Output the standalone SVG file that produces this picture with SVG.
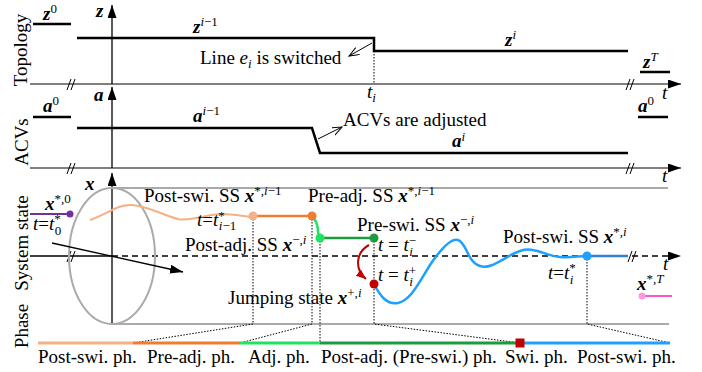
<svg xmlns="http://www.w3.org/2000/svg" width="702" height="372" viewBox="0 0 702 372">
<style>
text{font-family:"Liberation Serif","Times New Roman",serif;font-size:19px;fill:#000}
.mb{font-weight:bold;font-style:italic}
.it{font-style:italic}
.sm{font-size:13px}
.step{fill:none;stroke:#000;stroke-width:2.5}
.ax{fill:none;stroke:#000;stroke-width:1.3}
.gax{fill:none;stroke:#808080;stroke-width:2}
.cyl{fill:none;stroke:#aaaaaa;stroke-width:2}
.dot{fill:none;stroke:#000;stroke-width:1;stroke-dasharray:1.5 1.5}
.brk{fill:none;stroke:#000;stroke-width:1}
.ph{fill:none;stroke-width:3}
</style>
<defs>
<marker id="ah" markerUnits="userSpaceOnUse" markerWidth="14" markerHeight="10" refX="13" refY="4.5" orient="auto"><path d="M0,0 L13,4.5 L0,9 z" fill="#000"/></marker>
<marker id="ao" markerUnits="userSpaceOnUse" markerWidth="12" markerHeight="10" refX="10" refY="4" orient="auto"><path d="M0,0 L10,4 L0,8" fill="none" stroke="#000" stroke-width="1"/></marker>
<marker id="ar" markerUnits="userSpaceOnUse" markerWidth="12" markerHeight="10" refX="10" refY="4" orient="auto"><path d="M0,0 L10,4 L0,8 z" fill="#C00000"/></marker>
</defs>

<g id="panel-labels">
<text transform="translate(27,50) rotate(-90)" text-anchor="middle">Topology</text>
<text transform="translate(28,142) rotate(-90)" text-anchor="middle">ACVs</text>
<text transform="translate(28,243) rotate(-90)" text-anchor="middle">System state</text>
<text transform="translate(28,326) rotate(-90)" text-anchor="middle">Phase</text>
</g>

<g id="connectors">
<line class="gax" x1="30" y1="84" x2="681" y2="84" marker-end="url(#ah)"/>
<line class="gax" x1="30" y1="168" x2="681" y2="168" stroke="#606060" marker-end="url(#ah)"/>
<line class="ax" x1="112" y1="84" x2="112" y2="5" marker-end="url(#ah)"/>
<line class="ax" x1="112" y1="168" x2="112" y2="87" marker-end="url(#ah)"/>
<line class="ax" x1="112" y1="324" x2="112" y2="173" marker-end="url(#ah)"/>
<line class="ax" x1="30" y1="256" x2="112" y2="256"/>
<line class="ax" x1="112" y1="256" x2="681" y2="256" stroke-dasharray="6 4" marker-end="url(#ah)"/>
<path class="brk" d="M67,90 L71,79 M71,90 L75,79 M626,90 L630,79 M630,90 L634,79 M67,174 L71,163 M71,174 L75,163 M626,174 L630,163 M630,174 L634,163 M67,262 L71,251 M71,262 L75,251 M628,262 L632,251 M632,262 L636,251"/>
<line class="cyl" x1="112" y1="188" x2="668" y2="188"/>
<line class="cyl" x1="112" y1="324" x2="669" y2="324"/>
<ellipse class="cyl" cx="112" cy="256" rx="43" ry="68"/>
<line class="ax" x1="52" y1="243" x2="183" y2="272" marker-end="url(#ah)"/>
<path class="step" d="M33,24 H71"/>
<path class="step" d="M77,38 H374 V51 H628"/>
<path class="step" d="M640,72 H670"/>
<path class="step" stroke-width="2" d="M33,117 H71"/>
<path class="step" d="M77,128 H312 L320,153 H628"/>
<path class="step" stroke-width="2" d="M638,117 H668"/>
<line x1="372" y1="43" x2="349" y2="56" stroke="#000" stroke-width="1" marker-end="url(#ao)"/>
<line x1="318" y1="139" x2="342" y2="127" stroke="#000" stroke-width="1" marker-end="url(#ao)"/>
<line class="dot" x1="374" y1="51" x2="374" y2="84"/>
<path class="dot" d="M253,216 V324 L133,343"/>
<path class="dot" d="M312,216 V324 L240,343"/>
<path class="dot" d="M320,238 V343"/>
<path class="dot" d="M374,238 V324 L520,343"/>
<path class="dot" d="M587,256 V324 L670,343"/>
<path d="M30,214 H70" stroke="#7030A0" stroke-width="2" fill="none"/>
<path d="M90,220 C108,214 118,204 132,205 C148,206 160,214 178,219 C192,222 205,214 222,214 C236,214 245,217 253,217" stroke="#F4B183" stroke-width="2" fill="none"/>
<path d="M253,216 H312" stroke="#ED7D31" stroke-width="2.5" fill="none"/>
<path d="M312,216 C317,221 318,228 318,232 C319,236 320,238 322,238" stroke="#22E35F" stroke-width="2.5" fill="none"/>
<path d="M320,238 H374" stroke="#1E9B3E" stroke-width="2.5" fill="none"/>
<path d="M369,245 C356,252 354,269 366,279" stroke="#C00000" stroke-width="2" fill="none" marker-end="url(#ar)"/>
<path d="M374,284 C380,296 387,305 398,303 C412,300 420,280 432,262 C444,245 452,238 458,240 C467,243 467,262 480,266 C492,270 505,256 520,251 C535,246 545,256 560,257 C572,258 578,256 587,256" stroke="#1EA0FF" stroke-width="2.5" fill="none"/>
<path d="M587,256 H628" stroke="#2E80D0" stroke-width="2.5" fill="none"/>
<path d="M642,296 H672" stroke="#FF55CC" stroke-width="2" fill="none"/>
<path class="ph" stroke="#F4B183" d="M38,343 H133"/>
<path class="ph" stroke="#ED7D31" d="M133,343 H240"/>
<path class="ph" stroke="#22E35F" d="M240,343 H320"/>
<path class="ph" stroke="#1E9B3E" d="M320,343 H520"/>
<path class="ph" stroke="#1EA0FF" d="M520,343 H670"/>
<rect x="515.5" y="338.5" width="9" height="9" fill="#C00000"/>
</g>

<g id="dots">
<circle cx="70" cy="214" r="3.5" fill="#7030A0"/>
<circle cx="253" cy="216" r="4.5" fill="#F4B183"/>
<circle cx="312" cy="216" r="4.5" fill="#ED7D31"/>
<circle cx="320" cy="238" r="4.5" fill="#22E35F"/>
<circle cx="374" cy="238" r="4.5" fill="#1E9B3E"/>
<circle cx="374" cy="284" r="4.5" fill="#C00000"/>
<circle cx="587" cy="256" r="4.5" fill="#1EA0FF"/>
<circle cx="642" cy="296" r="3.5" fill="#FF99DD"/>
</g>

<g id="topology-labels">
<text x="96" y="17" class="mb">z</text>
<text x="43" y="20"><tspan class="mb">z</tspan><tspan class="sm" dy="-7">0</tspan></text>
<text x="193" y="33"><tspan class="mb">z</tspan><tspan class="sm" dy="-7"><tspan class="it">i</tspan>−1</tspan></text>
<text x="505" y="46"><tspan class="mb">z</tspan><tspan class="sm it" dy="-7">i</tspan></text>
<text x="643" y="68"><tspan class="mb">z</tspan><tspan class="sm it" dy="-7">T</tspan></text>
<text x="200" y="64">Line <tspan class="it">e</tspan><tspan class="sm it" dy="4">i</tspan><tspan dy="-4"> is switched</tspan></text>
<text x="367" y="98" class="it">t<tspan class="sm" dy="4">i</tspan></text>
<text x="662" y="99" class="it">t</text>
</g>

<g id="acv-labels">
<text x="94" y="101" class="mb">a</text>
<text x="43" y="112"><tspan class="mb">a</tspan><tspan class="sm" dy="-7">0</tspan></text>
<text x="193" y="122"><tspan class="mb">a</tspan><tspan class="sm" dy="-7"><tspan class="it">i</tspan>−1</tspan></text>
<text x="452" y="147"><tspan class="mb">a</tspan><tspan class="sm it" dy="-6">i</tspan></text>
<text x="638" y="112"><tspan class="mb">a</tspan><tspan class="sm" dy="-7">0</tspan></text>
<text x="343" y="126">ACVs are adjusted</text>
<text x="662" y="182" class="it">t</text>
</g>

<g id="state-labels">
<text x="85" y="190" class="mb">x</text>
<text x="45" y="210"><tspan class="mb">x</tspan><tspan class="sm" dy="-7">*,0</tspan></text>
<text x="33" y="230"><tspan class="it">t</tspan>=<tspan class="it">t</tspan><tspan class="sm" dy="-7">*</tspan><tspan class="sm" dx="-6" dy="12">0</tspan></text>
<text x="144" y="202">Post-swi. SS <tspan class="mb">x</tspan><tspan class="sm" dy="-7">*,<tspan class="it">i</tspan>−1</tspan></text>
<text x="197" y="226"><tspan class="it">t</tspan>=<tspan class="it">t</tspan><tspan class="sm" dy="-6">*</tspan><tspan class="sm" dx="-6" dy="10"><tspan class="it">i</tspan>−1</tspan></text>
<text x="308" y="202">Pre-adj. SS <tspan class="mb">x</tspan><tspan class="sm" dy="-7">*,<tspan class="it">i</tspan>−1</tspan></text>
<text x="185" y="251">Post-adj. SS <tspan class="mb">x</tspan><tspan class="sm" dy="-7">−,<tspan class="it">i</tspan></tspan></text>
<text x="357" y="231">Pre-swi. SS <tspan class="mb">x</tspan><tspan class="sm" dy="-7">−,<tspan class="it">i</tspan></tspan></text>
<text x="378" y="251"><tspan class="it">t</tspan> = <tspan class="it">t</tspan><tspan class="sm" dy="-6">−</tspan><tspan class="sm it" dx="-7" dy="11">i</tspan></text>
<text x="378" y="281"><tspan class="it">t</tspan> = <tspan class="it">t</tspan><tspan class="sm" dy="-6">+</tspan><tspan class="sm it" dx="-7" dy="11">i</tspan></text>
<text x="228" y="304">Jumping state <tspan class="mb">x</tspan><tspan class="sm" dy="-7">+,<tspan class="it">i</tspan></tspan></text>
<text x="503" y="243">Post-swi. SS <tspan class="mb">x</tspan><tspan class="sm" dy="-7">*,<tspan class="it">i</tspan></tspan></text>
<text x="548" y="279"><tspan class="it">t</tspan>=<tspan class="it">t</tspan><tspan class="sm" dy="-7">*</tspan><tspan class="sm it" dx="-6" dy="12">i</tspan></text>
<text x="663" y="270" class="it">t</text>
<text x="637" y="290"><tspan class="mb">x</tspan><tspan class="sm" dy="-7">*,<tspan class="it">T</tspan></tspan></text>
</g>

<g id="phase-labels">
<text x="38" y="363">Post-swi. ph.</text>
<text x="147" y="363">Pre-adj. ph.</text>
<text x="248" y="363">Adj. ph.</text>
<text x="321" y="363">Post-adj. (Pre-swi.) ph.</text>
<text x="505" y="363">Swi. ph.</text>
<text x="577" y="363">Post-swi. ph.</text>
</g>
</svg>
